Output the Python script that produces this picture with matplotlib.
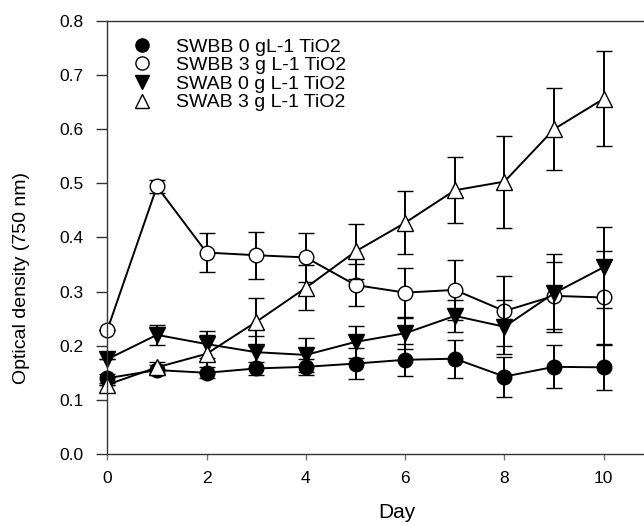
import matplotlib
matplotlib.use("Agg")
import matplotlib.pyplot as plt
from matplotlib.lines import Line2D

days = [0, 1, 2, 3, 4, 5, 6, 7, 8, 9, 10]

labels = ["SWBB 0 gL-1 TiO2", "SWBB 3 g L-1 TiO2", "SWAB 0 g L-1 TiO2", "SWAB 3 g L-1 TiO2"]

swbb0 = [0.140, 0.155, 0.150, 0.158, 0.161, 0.167, 0.174, 0.176, 0.143, 0.161, 0.160]
swbb0_err = [0.008, 0.010, 0.010, 0.012, 0.015, 0.028, 0.030, 0.035, 0.037, 0.040, 0.042]

swbb3 = [0.229, 0.494, 0.372, 0.367, 0.363, 0.312, 0.298, 0.303, 0.264, 0.292, 0.289]
swbb3_err = [0.000, 0.012, 0.036, 0.043, 0.045, 0.038, 0.046, 0.055, 0.064, 0.062, 0.085]

swab0 = [0.175, 0.220, 0.203, 0.188, 0.183, 0.207, 0.223, 0.255, 0.235, 0.297, 0.345]
swab0_err = [0.000, 0.019, 0.025, 0.030, 0.032, 0.030, 0.030, 0.030, 0.050, 0.072, 0.075]

swab3 = [0.128, 0.160, 0.185, 0.244, 0.307, 0.374, 0.427, 0.487, 0.503, 0.600, 0.656]
swab3_err = [0.000, 0.010, 0.035, 0.044, 0.042, 0.051, 0.058, 0.061, 0.085, 0.075, 0.088]

xticks = [0, 2, 4, 6, 8, 10]
yticks = [0.0, 0.1, 0.2, 0.3, 0.4, 0.5, 0.6, 0.7, 0.8]

plt.rcParams['font.family'] = ['Liberation Sans', 'DejaVu Sans']

fig = plt.figure(figsize=(6.44, 5.25), dpi=100)
ax = fig.add_axes([0.1666, 0.1352, 0.848, 0.8253])

series = [
    (swbb0, swbb0_err, 'o', 'black', 10.5),
    (swbb3, swbb3_err, 'o', 'white', 10.5),
    (swab0, swab0_err, 'v', 'black', 11),
    (swab3, swab3_err, '^', 'white', 11),
]

handles = []
for i, ((vals, errs, mk, fc, ms), lab) in enumerate(zip(series, labels)):
    ax.errorbar(days, vals, yerr=errs, fmt='-', marker=mk, color='black',
                mfc=fc, mec='black', mew=1.0, ms=ms, lw=1.4,
                elinewidth=1.4, capsize=6, capthick=1.4,
                zorder=2 + i * 0.1, clip_on=False)
    handles.append(Line2D([], [], linestyle='None', marker=mk, mfc=fc,
                          mec='black', mew=1.0, ms=ms - 1, label=lab))

ax.set_xlim(0, 11)
ax.set_ylim(0.0, 0.8)
ax.set_xticks(xticks)
ax.set_xticklabels([str(t) for t in xticks])
ax.set_yticks(yticks)
ax.set_yticklabels([f"{t:.1f}" for t in yticks])

for s in ax.spines.values():
    s.set_linewidth(1.0)
    s.set_color('#333333')

ax.tick_params(axis='y', direction='out', length=8, width=1.0, pad=9, labelsize=12.5, color='#333333')
ax.tick_params(axis='x', direction='out', length=4.5, width=1.0, pad=8, labelsize=12.5, color='#777777')

ax.set_xlabel("Day", fontsize=15, va='center')
ax.xaxis.set_label_coords(0.53, -0.136)
ax.set_ylabel("Optical density (750 nm)", fontsize=14, va='center')
ax.yaxis.set_label_coords(-0.158, 0.406)

leg = ax.legend(handles=handles, loc='upper left', bbox_to_anchor=(0.022, 0.978),
                frameon=False, fontsize=14, handlelength=1.5, handletextpad=1.0,
                labelspacing=0.05, borderaxespad=0.0)

fig.savefig("out.png", dpi=100)
